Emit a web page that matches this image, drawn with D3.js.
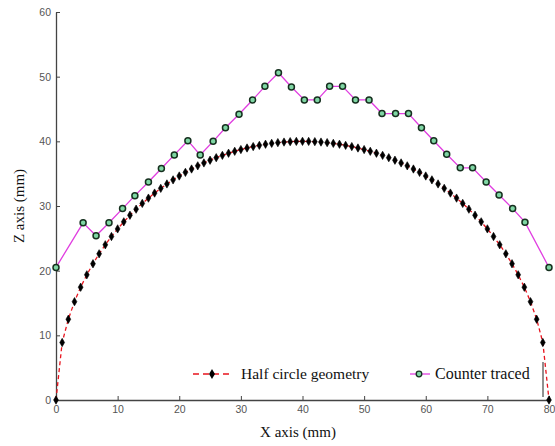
<!DOCTYPE html>
<html>
<head>
<meta charset="utf-8">
<script src="https://cdn.jsdelivr.net/npm/d3@7"></script>
<style>
  body { margin: 0; background: #fff; }
  svg { display: block; }
</style>
</head>
<body>
<div id="chart"></div>
<script>
// half circle geometry (x, z in mm)
let circleX = [0,1,2,3,4,5,6,7,8,9,10,11,12,13,14,15,16,17,18,19,20,21,22,23,24,25,26,27,28,29,30,31,32,33,34,35,36,37,38,39,40,
  41,42,43,44,45,46,47,48,49,50,51,52,53,54,55,56,57,58,59,60,61,62,63,64,65,66,67,68,69,70,71,72,73,74,75,76,77,78,79,80];
let circleZ = [0,8.89,12.49,15.2,17.44,19.36,21.07,22.61,24.0,25.28,26.46,27.55,28.57,29.51,30.4,31.22,32.0,32.73,33.41,34.04,34.64,
  35.2,35.72,36.21,36.66,37.08,37.47,37.83,38.16,38.46,38.73,38.97,39.19,39.38,39.55,39.69,39.8,39.89,39.95,39.99,40,
  39.99,39.95,39.89,39.8,39.69,39.55,39.38,39.19,38.97,38.73,38.46,38.16,37.83,37.47,37.08,36.66,36.21,35.72,35.2,34.64,
  34.04,33.41,32.73,32.0,31.22,30.4,29.51,28.57,27.55,26.46,25.28,24.0,22.61,21.07,19.36,17.44,15.2,12.49,8.89,0];

// counter traced points
let tracedX = [0,4.4,6.5,8.6,10.8,12.8,15.0,17.1,19.2,21.4,23.4,25.5,27.5,29.7,31.9,33.9,36.1,38.2,40.3,42.4,44.4,46.5,48.6,50.8,
  52.9,55.1,57.2,59.3,61.3,63.4,65.6,67.6,69.8,71.9,74.1,76.1,80];
let tracedZ = [20.5,27.4,25.4,27.4,29.6,31.6,33.7,35.8,37.9,40.1,37.9,40.0,42.1,44.2,46.4,48.5,50.6,48.4,46.4,46.4,48.5,48.5,46.4,46.4,
  44.3,44.3,44.3,42.1,40.1,38.0,35.9,35.9,33.7,31.7,29.6,27.5,20.5];

let xTicks = [0,10,20,30,40,50,60,70,80];
let yTicks = [0,10,20,30,40,50,60];

let W = 555, H = 446;
let svg = d3.select("#chart").append("svg").attr("width",W).attr("height",H);

let x = d3.scaleLinear().domain([0,80]).range([56,549]);
let y = d3.scaleLinear().domain([0,60]).range([400,12]);

let axisColor = "#444";

// axes (ticks pointing inward, matlab style)
let xAxis = svg.append("g").attr("transform","translate(0,400)")
  .call(d3.axisBottom(x).tickValues(xTicks).tickSizeInner(-4).tickSizeOuter(0).tickPadding(6));
let yAxis = svg.append("g").attr("transform","translate(56,0)")
  .call(d3.axisLeft(y).tickValues(yTicks).tickSizeInner(-4).tickSizeOuter(0).tickPadding(5));

[xAxis, yAxis].forEach(function(a){
  a.select(".domain").attr("stroke",axisColor).attr("stroke-width",1.3);
  a.selectAll(".tick line").attr("stroke",axisColor);
  a.selectAll(".tick text").attr("fill","#555").style("font-family","'Liberation Sans', Arial, sans-serif").style("font-size","10.5px");
});

let circleData = circleX.map(function(d,i){ return {x:d, y:circleZ[i]}; });
let tracedData = tracedX.map(function(d,i){ return {x:d, y:tracedZ[i]}; });

let line = d3.line()
  .x(function(d){ return x(d.x); })
  .y(function(d){ return y(d.y); });

// half circle
svg.append("path")
  .attr("d", line(circleData))
  .attr("fill","none")
  .attr("stroke","#e8141e")
  .attr("stroke-width",1.3)
  .attr("stroke-dasharray","4,3");

let diamond = d3.symbol().type(d3.symbolDiamond).size(20);

svg.selectAll("path.dia")
  .data(circleData)
  .enter().append("path")
    .attr("class","dia")
    .attr("d", diamond)
    .attr("transform", function(d){ return "translate("+x(d.x)+","+y(d.y)+")"; })
    .attr("fill","#000")
    .attr("stroke","#000")
    .attr("stroke-width",0.6);

// counter traced
svg.append("path")
  .attr("d", line(tracedData))
  .attr("fill","none")
  .attr("stroke","#e03ee0")
  .attr("stroke-width",1.3);

svg.selectAll("circle.tr")
  .data(tracedData)
  .enter().append("circle")
    .attr("class","tr")
    .attr("cx", function(d){ return x(d.x); })
    .attr("cy", function(d){ return y(d.y); })
    .attr("r", 3)
    .attr("fill","#7fd6a4")
    .attr("stroke","#16301f")
    .attr("stroke-width",1.5);

// axis titles
let serif = "'Liberation Serif', 'Times New Roman', serif";
svg.append("text")
  .attr("x",298).attr("y",437)
  .attr("text-anchor","middle")
  .style("font-family",serif).style("font-size","15px").attr("fill","#111")
  .text("X axis (mm)");

svg.append("text")
  .attr("transform","translate(24,206) rotate(-90)")
  .attr("text-anchor","middle")
  .style("font-family",serif).style("font-size","15px").attr("fill","#111")
  .text("Z axis (mm)");

// legend (no box)
let lg = svg.append("g");
lg.append("line").attr("x1",193).attr("x2",233).attr("y1",374).attr("y2",374)
  .attr("stroke","#e8141e").attr("stroke-width",1.3).attr("stroke-dasharray","6,4");
lg.append("path").attr("d", d3.symbol().type(d3.symbolDiamond).size(30))
  .attr("transform","translate(212,374)").attr("fill","#000");
lg.append("text").attr("x",241).attr("y",379)
  .style("font-family",serif).style("font-size","15.5px").attr("fill","#111")
  .text("Half circle geometry");

lg.append("line").attr("x1",410).attr("x2",430).attr("y1",374).attr("y2",374)
  .attr("stroke","#e03ee0").attr("stroke-width",1.3);
lg.append("circle").attr("cx",419).attr("cy",374).attr("r",2.8)
  .attr("fill","#7fd6a4").attr("stroke","#16301f").attr("stroke-width",1.3);
lg.append("text").attr("x",435).attr("y",379)
  .style("font-family",serif).style("font-size","16px").attr("fill","#111")
  .text("Counter traced");

// stray edge of the legend frame
lg.append("line").attr("x1",543).attr("x2",543).attr("y1",362).attr("y2",397)
  .attr("stroke","#222").attr("stroke-width",1);
</script>
</body>
</html>
